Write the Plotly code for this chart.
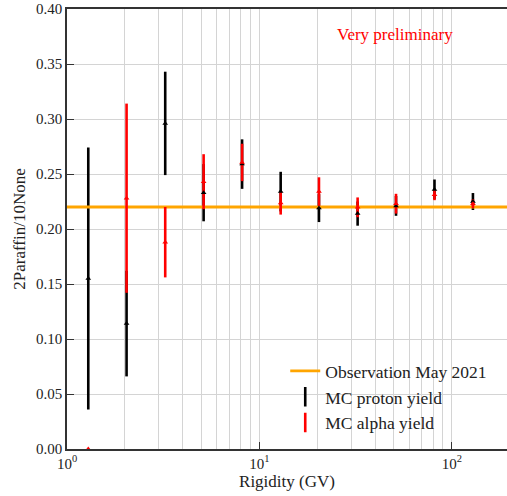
import plotly.graph_objects as go

# ---- data ----
rigidity = [1.29, 2.04, 3.24, 5.13, 8.13, 12.9, 20.4, 32.4, 51.3, 81.3, 128.8]
proton_yield = [0.155, 0.114, 0.296, 0.233, 0.259, 0.234, 0.219, 0.214, 0.221, 0.236, 0.225]
proton_err = [0.119, 0.048, 0.047, 0.026, 0.0225, 0.018, 0.0127, 0.011, 0.009, 0.009, 0.0077]
alpha_yield = [0.0, 0.228, 0.188, 0.243, 0.2605, 0.2236, 0.234, 0.2197, 0.223, 0.2312, 0.223]
alpha_err = [0.0, 0.086, 0.032, 0.025, 0.017, 0.0105, 0.013, 0.009, 0.009, 0.005, 0.004]
observation = 0.22
obs_x = [0.5, 500]

x_tickvals = [1, 10, 100]
x_ticktext = ["10<sup>0</sup>", "10<sup>1</sup>", "10<sup>2</sup>"]
x_minor = [2, 3, 4, 5, 6, 7, 8, 9, 20, 30, 40, 50, 60, 70, 80, 90, 200]

FONT = "Liberation Serif"
BLACK = "black"
RED = "#ff0000"
ORANGE = "#ffa500"

fig = go.Figure()

# proton error bars
fig.add_trace(go.Scatter(
    x=rigidity, y=proton_yield, mode="markers",
    marker=dict(size=1, opacity=0),
    error_y=dict(type="data", array=proton_err, visible=True, color=BLACK, thickness=2.6, width=0),
    showlegend=False, hoverinfo="skip"))

# observation line
fig.add_trace(go.Scatter(
    x=obs_x, y=[observation, observation], mode="lines",
    line=dict(color=ORANGE, width=2.8), name="Observation May 2021"))

# alpha error bars
fig.add_trace(go.Scatter(
    x=rigidity, y=alpha_yield, mode="markers",
    marker=dict(size=1, opacity=0),
    error_y=dict(type="data", array=alpha_err, visible=True, color=RED, thickness=2.6, width=0),
    showlegend=False, hoverinfo="skip"))

# markers
fig.add_trace(go.Scatter(
    x=rigidity, y=proton_yield, mode="markers",
    marker=dict(symbol="triangle-up", size=5, color=BLACK),
    showlegend=False))
fig.add_trace(go.Scatter(
    x=rigidity, y=alpha_yield, mode="markers",
    marker=dict(symbol="triangle-up", size=5, color=RED),
    showlegend=False))

# legend-only entries for error-bar series
fig.add_trace(go.Scatter(
    x=[None], y=[None], mode="markers", name="MC proton yield",
    marker=dict(symbol="line-ns-open", size=14, color=BLACK, line=dict(width=2.6, color=BLACK))))
fig.add_trace(go.Scatter(
    x=[None], y=[None], mode="markers", name="MC alpha yield",
    marker=dict(symbol="line-ns-open", size=14, color=RED, line=dict(width=2.6, color=RED))))

axis_common = dict(
    showline=True, linecolor="#333333", linewidth=1.5,
    ticks="inside", ticklen=7, tickwidth=1.2, tickcolor="#333333",
    gridcolor="#d4d4d4", gridwidth=1, zeroline=False, automargin=False,
    ticklabeloverflow="allow",
    tickfont=dict(family=FONT, size=15, color="#222222"),
)

fig.update_layout(
    width=507, height=496,
    margin=dict(l=67, r=0, t=9, b=47),
    paper_bgcolor="white", plot_bgcolor="white",
    font=dict(family=FONT, color="#222222"),
    xaxis=dict(
        type="log", range=[0, 2.287],
        tickvals=x_tickvals, ticktext=x_ticktext,
        mirror=True,
        minor=dict(tickvals=x_minor, showgrid=True, gridcolor="#d4d4d4", gridwidth=1, ticks=""),
        title=dict(text="Rigidity (GV)", font=dict(family=FONT, size=17, color="#222222"), standoff=2),
        **axis_common),
    yaxis=dict(
        range=[0, 0.4], dtick=0.05, tickformat=".2f",
        title=dict(text="2Paraffin/10None", font=dict(family=FONT, size=17, color="#222222"), standoff=6),
        **axis_common),
    legend=dict(
        x=0.496, y=0.018, xanchor="left", yanchor="bottom",
        bgcolor="rgba(0,0,0,0)",
        font=dict(family=FONT, size=17.5, color="#222222"),
        tracegroupgap=0, itemwidth=30,
    ),
    annotations=[dict(
        text="Very preliminary", x=0.745, y=0.9416, xref="paper", yref="paper",
        xanchor="center", yanchor="middle", showarrow=False,
        font=dict(family=FONT, size=17, color=RED))],
)

fig.write_html(
    "out.html",
    config={"displayModeBar": False},
    post_script="document.body.style.margin='0px';document.body.style.overflow='hidden';",
)
